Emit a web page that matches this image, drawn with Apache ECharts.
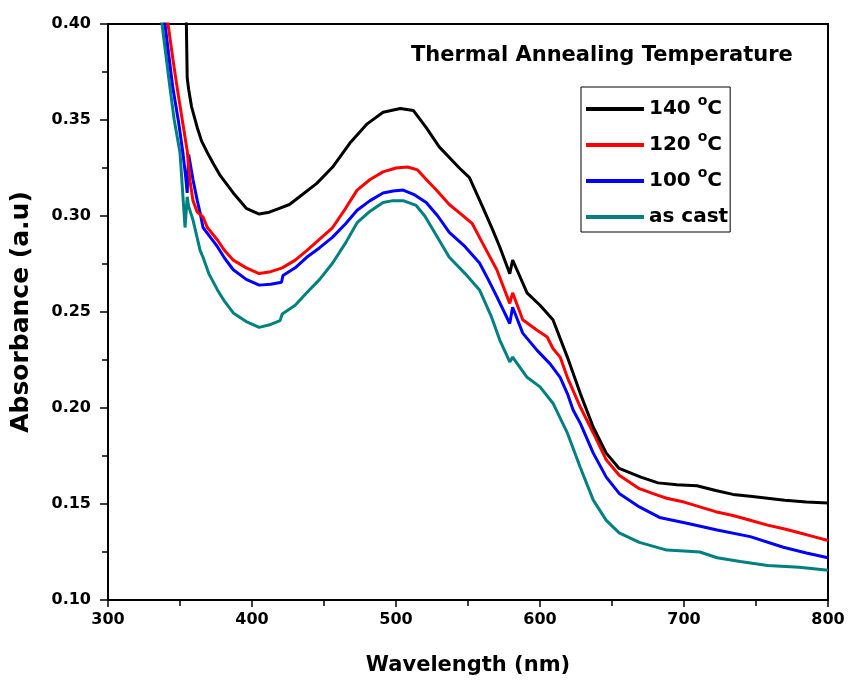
<!DOCTYPE html>
<html><head><meta charset="utf-8">
<script src="https://cdn.jsdelivr.net/npm/echarts@6/dist/echarts.min.js"></script>
<style>html,body{margin:0;padding:0;background:#fff}#c{width:848px;height:681px}</style>
</head><body><div id="c"></div>
<script>
const seriesNames = ['140', '120', '100', 'as cast'];
const xTicks = [300, 400, 500, 600, 700, 800];
const yTicks = [0.10, 0.15, 0.20, 0.25, 0.30, 0.35, 0.40];

const wl140 = [354,355,356,358,362,365,369,373,378,387,396,405,412,419,426,433,445,456,468,480,491,503,512,521,530,544,551,560,567,572,579,581,584,591,600,609,619,628,637,646,655,670,682,695,709,722,734,746,758,770,785,800];
const abs140 = [0.42,0.372,0.366,0.357,0.346,0.339,0.333,0.3275,0.321,0.312,0.304,0.301,0.302,0.304,0.306,0.310,0.317,0.3255,0.338,0.348,0.354,0.356,0.355,0.346,0.336,0.325,0.320,0.305,0.293,0.284,0.270,0.277,0.272,0.260,0.2535,0.246,0.2265,0.2075,0.190,0.1765,0.1685,0.164,0.161,0.160,0.1595,0.157,0.155,0.154,0.153,0.152,0.151,0.1505];

const wl120 = [338,341.7,345,348,352,355,357,359,362,366,369,376,381,387,396,405,413,421,430,438,447,456,465,473,482,491,500,508,515,521,528,537,546,553,560,570,579,581,588,598,605,609,614,619,628,637,646,655,669,682,688,700,711,722,734,746,758,770,780,790,800];
const abs120 = [0.42,0.40,0.382,0.367,0.348,0.334,0.318,0.308,0.302,0.2995,0.294,0.2875,0.282,0.277,0.273,0.270,0.271,0.273,0.277,0.282,0.288,0.294,0.304,0.3135,0.319,0.323,0.325,0.3255,0.324,0.319,0.3135,0.306,0.3005,0.296,0.286,0.272,0.2545,0.260,0.246,0.2405,0.237,0.231,0.2265,0.216,0.2005,0.187,0.173,0.165,0.158,0.1545,0.153,0.151,0.1485,0.146,0.144,0.1415,0.139,0.137,0.135,0.133,0.131];

const wl100 = [336,339.6,342,345,349,352,354,355,356,359,362,364,366,371,376,381,387,396,405,413,420.5,421.5,430,438,447,456,465,473,482,491,498,505,513,521,529,537,548,558,564,570,579,581,588,598,607,614,619,623,628,637,646,655,669,683,702,723,746,769,785,800];
const abs100 = [0.42,0.40,0.385,0.367,0.349,0.333,0.32,0.312,0.332,0.319,0.308,0.3015,0.294,0.289,0.284,0.278,0.272,0.267,0.264,0.2645,0.2655,0.269,0.273,0.2785,0.2835,0.289,0.296,0.303,0.308,0.312,0.313,0.3135,0.311,0.307,0.300,0.2915,0.284,0.2755,0.267,0.258,0.244,0.2525,0.239,0.230,0.223,0.216,0.2075,0.199,0.192,0.1765,0.164,0.1555,0.1485,0.143,0.140,0.1365,0.133,0.1275,0.1245,0.122];

const wlCast = [334,337.5,340,343,346,350,353.5,355,356,359,364,366,370,376,381,387,396,405,413,419.5,421,430,438,447,456,465,473,482,491,498,505,514,520,526,537,548,558,566,572,579,581,591,600,609,619,628,637,646,655,669,688,700,711,723,739,758,780,800];
const absCast = [0.42,0.40,0.385,0.367,0.350,0.333,0.294,0.310,0.305,0.298,0.282,0.2785,0.270,0.2615,0.2555,0.2495,0.245,0.242,0.2435,0.2455,0.249,0.2535,0.26,0.267,0.2755,0.286,0.2965,0.3025,0.307,0.308,0.308,0.3055,0.300,0.2925,0.2785,0.270,0.2615,0.248,0.2355,0.224,0.2265,0.216,0.211,0.2025,0.187,0.169,0.152,0.1415,0.135,0.130,0.126,0.1255,0.125,0.122,0.120,0.118,0.117,0.1155];

const colors = ['#000000', '#ff0000', '#0000ff', '#008080'];
const wls = [wl140, wl120, wl100, wlCast];
const absv = [abs140, abs120, abs100, absCast];

const chart = echarts.init(document.getElementById('c'));
const font = '"DejaVu Sans", Arial, sans-serif';
chart.setOption({
  animation: false,
  backgroundColor: '#fff',
  title: {
    text: 'Thermal Annealing Temperature',
    left: 411, top: 45, padding: 0,
    textStyle: {fontFamily: font, fontWeight: 'bold', fontSize: 21, color: '#000'}
  },
  legend: {
    orient: 'vertical',
    left: 581, top: 87,
    borderColor: '#000', borderWidth: 1,
    padding: [7, 2, 0, 5],
    icon: 'rect',
    itemWidth: 58, itemHeight: 4, itemGap: 6,
    data: seriesNames,
    formatter: function (n) { return n === 'as cast' ? '{t|' + n + '}' : '{t|' + n + ' }{s|o}{t|C}'; },
    textStyle: {
      fontFamily: font, fontWeight: 'bold', fontSize: 20, color: '#000', lineHeight: 30,
      rich: {
        t: {fontFamily: font, fontWeight: 'bold', fontSize: 20, color: '#000', lineHeight: 30, verticalAlign: 'middle'},
        s: {fontFamily: font, fontWeight: 'bold', fontSize: 14, color: '#000', lineHeight: 14, verticalAlign: 'top'}
      }
    }
  },
  grid: {left: 108, right: 20, top: 24, bottom: 81, show: true, borderColor: '#000', borderWidth: 2},
  xAxis: {
    type: 'value', min: xTicks[0], max: xTicks[xTicks.length - 1], interval: 100,
    name: 'Wavelength (nm)', nameLocation: 'middle', nameGap: 55,
    nameTextStyle: {fontFamily: font, fontWeight: 'bold', fontSize: 21, color: '#000'},
    axisLine: {lineStyle: {color: '#000', width: 2}},
    axisTick: {inside: false, length: 7, lineStyle: {color: '#000', width: 1.5}},
    minorTick: {show: true, splitNumber: 2, length: 6, lineStyle: {color: '#000', width: 1.5}},
    splitLine: {show: false},
    axisLabel: {fontFamily: font, fontWeight: 'bold', fontSize: 16, color: '#000', margin: 12}
  },
  yAxis: {
    type: 'value', min: yTicks[0], max: yTicks[yTicks.length - 1], interval: 0.05,
    name: 'Absorbance (a.u)', nameLocation: 'middle', nameGap: 74,
    nameTextStyle: {fontFamily: font, fontWeight: 'bold', fontSize: 25, color: '#000'},
    axisLine: {lineStyle: {color: '#000', width: 2}},
    axisTick: {inside: false, length: 8, lineStyle: {color: '#000', width: 1.5}},
    minorTick: {show: true, splitNumber: 2, length: 6, lineStyle: {color: '#000', width: 1.5}},
    splitLine: {show: false},
    axisLabel: {fontFamily: font, fontWeight: 'bold', fontSize: 16, color: '#000', margin: 17,
      formatter: v => v.toFixed(2)}
  },
  series: seriesNames.map((n, i) => ({
    name: n, type: 'line', showSymbol: false, symbol: 'none', clip: true,
    color: colors[i],
    lineStyle: {color: colors[i], width: 3},
    data: wls[i].map((x, j) => [x, absv[i][j]])
  })).reverse()
});
</script></body></html>
